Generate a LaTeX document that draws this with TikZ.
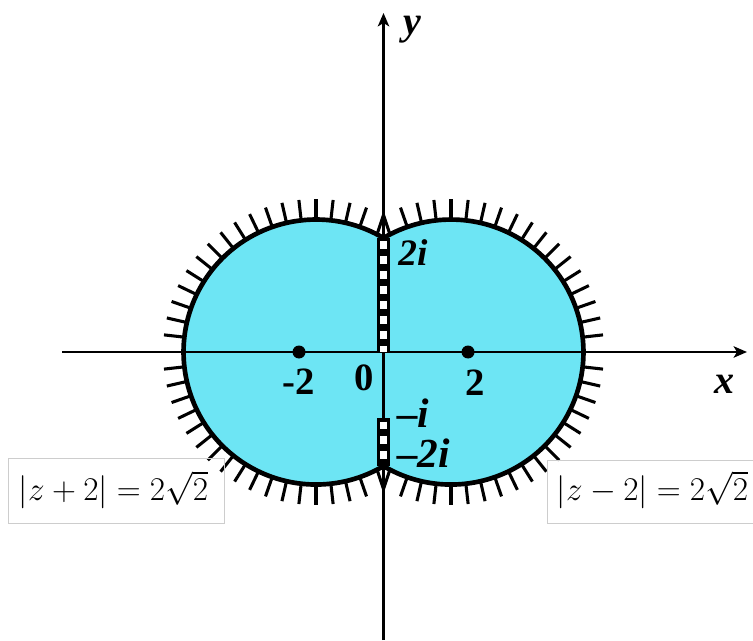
\documentclass[tikz,border=0pt]{standalone}
\usepackage[no-math]{fontspec}
\setmainfont{Liberation Serif}
\usetikzlibrary{arrows.meta,calc}
\definecolor{fillc}{RGB}{109,229,244}
\definecolor{boxc}{RGB}{205,205,205}
\begin{document}
\begin{tikzpicture}[x=0.75pt,y=0.75pt,
  axis/.style={line width=2.2pt,-{Stealth[length=10pt,width=8.5pt,inset=2.5pt]}},
  outline/.style={line width=3.5pt,line join=round},
  hatch/.style={line width=2.3pt},
  ladderbg/.style={line width=9.75pt},
  ladderfg/.style={white,line width=5pt,dash pattern=on 5.6pt off 5.6pt},
  lab/.style={inner sep=0pt,font=\fontsize{29}{33}\selectfont\bfseries},
  ilab/.style={inner sep=0pt,font=\fontsize{28}{32}\selectfont\bfseries\itshape},
  blab/.style={inner sep=0pt,font=\fontsize{31}{35}\selectfont\bfseries\itshape},
  axlab/.style={inner sep=0pt,font=\fontsize{30}{34}\selectfont\bfseries\itshape},
  eqbox/.style={draw=boxc,line width=0.75pt},
  eq/.style={inner sep=0pt,font=\fontsize{24.5}{30}\selectfont}]
\useasboundingbox (0,0) rectangle (753,640);
% key points
\coordinate (cL) at (316,288);
\coordinate (cR) at (451,288);
\coordinate (top) at (383.5,402);
\coordinate (bot) at (383.5,174);
\coordinate (o) at (383.5,288);
\coordinate (mi) at (383.5,222);
% filled union
\fill[fillc] (top) arc[start angle=59.4,end angle=300.6,radius=132.5]
  arc[start angle=-120.6,end angle=120.6,radius=132.5] -- cycle;
% hatch ticks
\foreach \k in {-17,...,-1,1,2,...,17}{
  \draw[hatch] ($(cL)+({180+\k*90/14}:132.5)$) -- ($(cL)+({180+\k*90/14}:153)$);
  \draw[hatch] ($(cR)+({\k*90/14}:132.5)$) -- ($(cR)+({\k*90/14}:153)$);
}
% cusp marks
\coordinate (tL) at (377,405.5);
\coordinate (tA) at (383.5,425);
\coordinate (tR) at (390,405.5);
\coordinate (bL) at (377,170.5);
\coordinate (bA) at (383.5,151);
\coordinate (bR) at (390,170.5);
\draw[hatch] (tL) -- (tA) -- (tR);
\draw[hatch] (bL) -- (bA) -- (bR);
% outline
\draw[outline] (top) arc[start angle=59.4,end angle=300.6,radius=132.5]
  arc[start angle=-120.6,end angle=120.6,radius=132.5] -- cycle;
% axes
\coordinate (xs) at (62,288);
\coordinate (xe) at (747,288);
\coordinate (ys) at (383.5,0);
\coordinate (ye) at (383.5,627);
\draw[axis] (xs) -- (xe);
\draw[axis] (ys) -- (ye);
% ladders
\coordinate (t1) at (383.5,398.5);
\coordinate (m1) at (383.5,218.5);
\draw[ladderbg] (top) -- (o);
\draw[ladderfg] (t1) -- (o);
\draw[ladderbg] (mi) -- (bot);
\draw[ladderfg] (m1) -- (bot);
% dots
\fill (299,288) circle[radius=6.5];
\fill (468,288) circle[radius=6.5];
% labels
\node[lab] (lm2) at (299,258) {-2};
\node[lab] (l0) at (364,262) {0};
\node[lab] (l2) at (475,257) {2};
\node[ilab] (l2i) at (413,387.5) {2i};
\node[blab,anchor=base west] (lmi) at (397,213) {–i};
\node[blab,anchor=base west] (lm2i) at (397,173) {–2i};
\node[axlab] (lx) at (724,256) {x};
\node[axlab] (ly) at (412,610) {y};
% equation boxes
\draw[eqbox] (8,117) rectangle (224,182);
\draw[eqbox] (547,117) rectangle (770,180);
\node[eq] (e1) at (113.5,150) {$|z+2|=2\sqrt{2}$};
\node[eq] (e2) at (652.5,150) {$|z-2|=2\sqrt{2}$};
\end{tikzpicture}
\end{document}
